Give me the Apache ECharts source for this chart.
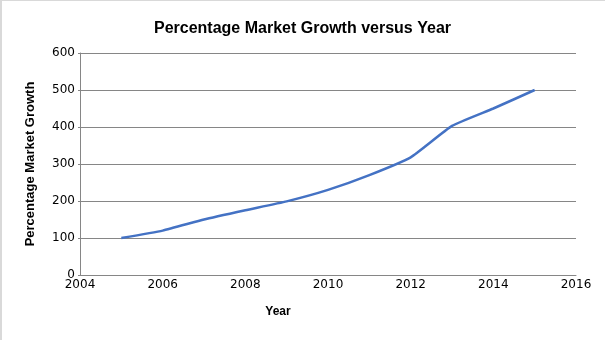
<!DOCTYPE html>
<html>
<head>
<meta charset="utf-8">
<script src="https://cdn.jsdelivr.net/npm/echarts@6/dist/echarts.min.js"></script>
<style>
  html, body { margin: 0; padding: 0; background: #fff; }
  #chart { position: absolute; left: 0; top: 0; width: 605px; height: 340px; }
  #frame { position: absolute; left: 0; top: 0; width: 605px; height: 340px;
           border-left: 2px solid #d9d9d9; border-top: 1px solid #d9d9d9;
           box-sizing: border-box; pointer-events: none; }
</style>
</head>
<body>
<div id="chart"></div>
<div id="frame"></div>
<script>
// Years and percentage market growth values
const years  = [2005, 2006, 2007, 2008, 2009, 2010, 2011, 2012, 2013, 2014, 2015];
const growth = [100, 120, 150, 175, 199, 230, 270, 318, 403, 450, 500];

const xTicks = { min: 2004, max: 2016, interval: 2 };
const yTicks = { min: 0, max: 600, interval: 100 };

const titleFont = "'Liberation Sans Narrow', 'Arial Narrow', 'Liberation Sans', sans-serif";
const tickFont = "'DejaVu Sans', sans-serif";

const chart = echarts.init(document.getElementById('chart'), null, { renderer: 'canvas' });
chart.setOption({
  animation: false,
  backgroundColor: '#fff',
  title: {
    text: 'Percentage Market Growth versus Year',
    left: 'center',
    top: 16,
    textStyle: { fontFamily: titleFont, fontSize: 16, fontWeight: 'bold', color: '#000' }
  },
  grid: { left: 80, right: 29, top: 53, bottom: 65 },
  xAxis: {
    type: 'value',
    min: xTicks.min, max: xTicks.max, interval: xTicks.interval,
    name: 'Year',
    nameLocation: 'middle',
    nameGap: 31,
    nameTextStyle: { fontFamily: titleFont, fontSize: 12, fontWeight: 'bold', color: '#000',
                     padding: [0, 100, 0, 0] },
    axisLine: { show: true, lineStyle: { color: '#868686', width: 1 } },
    axisTick: { show: false },
    axisLabel: { fontFamily: tickFont, fontSize: 12, color: '#000', margin: 4,
                 formatter: v => String(v) },
    splitLine: { show: false }
  },
  yAxis: {
    type: 'value',
    min: yTicks.min, max: yTicks.max, interval: yTicks.interval,
    name: 'Percentage Market Growth',
    nameLocation: 'middle',
    nameGap: 43,
    nameTextStyle: { fontFamily: titleFont, fontSize: 13, fontWeight: 'bold', color: '#000' },
    axisLine: { show: true, lineStyle: { color: '#868686', width: 1 } },
    axisTick: { show: true, length: 2, lineStyle: { color: '#868686' } },
    axisLabel: { fontFamily: tickFont, fontSize: 12, color: '#000', margin: 5 },
    splitLine: { show: true, lineStyle: { color: '#868686', width: 1 } }
  },
  series: [{
    type: 'line',
    data: years.map((y, i) => [y, growth[i]]),
    showSymbol: false,
    smooth: 0.15,
    lineStyle: { color: '#4472C4', width: 2.5 }
  }]
});
</script>
</body>
</html>
